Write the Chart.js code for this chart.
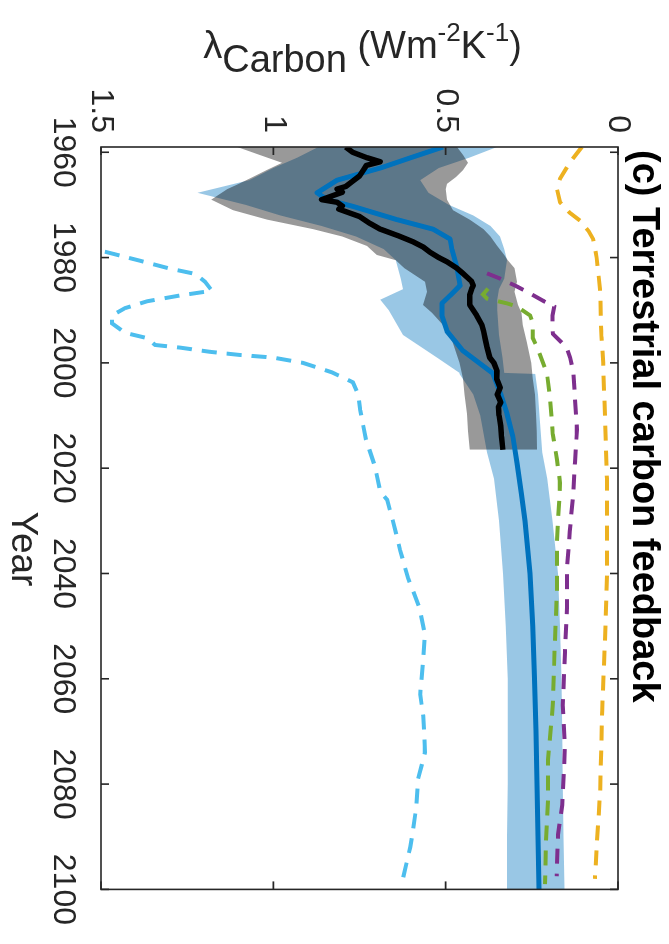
<!DOCTYPE html>
<html>
<head>
<meta charset="utf-8">
<script src="https://cdn.jsdelivr.net/npm/chart.js@4.4.0/dist/chart.umd.min.js"></script>
<style>
  html, body { margin: 0; padding: 0; background: #fff; }
  body { width: 669px; height: 944px; overflow: hidden; position: relative; }
  /* the figure is laid out landscape and turned a quarter turn clockwise */
  #turn { position: absolute; left: 0; top: 0; width: 944px; height: 669px;
          transform-origin: 0 0; transform: translate(669px, 0) rotate(90deg); }
  canvas { display: block; }
</style>
</head>
<body>
<div id="turn"><canvas id="c" width="944" height="669"></canvas></div>
<script>
// ---- axis ticks ----
const yearTicks = [1960, 1980, 2000, 2020, 2040, 2060, 2080, 2100];
const lambdaTicks = [0, 0.5, 1, 1.5];

// ---- observation-based estimate (black) and its range (grey) ----
const obsYears = [1959, 1960, 1961, 1961.8, 1962.5, 1963.5, 1964.5, 1965.5, 1966.5, 1967, 1967.6, 1968.3, 1969, 1969.5, 1970.2, 1970.8, 1971.5, 1972.2, 1973.5, 1974.6, 1975.8, 1977, 1978, 1979, 1980, 1980.8, 1982, 1983, 1984.5, 1985.3, 1986, 1987, 1988, 1989, 1990, 1991, 1992.8, 1994, 1995.5, 1997, 1999, 2000, 2001.5, 2003, 2004.7, 2006, 2007.5, 2008.4, 2010, 2012, 2014, 2016.5];
const obsCarbon = [0.79, 0.77, 0.73, 0.69, 0.73, 0.74, 0.75, 0.77, 0.79, 0.815, 0.80, 0.83, 0.86, 0.815, 0.80, 0.81, 0.78, 0.75, 0.72, 0.69, 0.64, 0.595, 0.565, 0.545, 0.52, 0.496, 0.468, 0.45, 0.425, 0.42, 0.425, 0.43, 0.43, 0.43, 0.42, 0.41, 0.395, 0.39, 0.385, 0.38, 0.372, 0.36, 0.351, 0.352, 0.342, 0.35, 0.34, 0.347, 0.345, 0.34, 0.338, 0.334];

const obsBandYears = [1959, 1960.5, 1962, 1963.4, 1964.7, 1966, 1967, 1969, 1971, 1972.8, 1974.6, 1976, 1977.8, 1979.5, 1980.5, 1982, 1984.6, 1986.5, 1989, 1990.5, 1992.8, 1996, 2000, 2003, 2006, 2009.7, 2013, 2016.5];
const obsBandHigh = [1.105, 1.04, 0.975, 1.02, 1.06, 1.10, 1.134, 1.18, 1.117, 1.018, 0.885, 0.80, 0.728, 0.70, 0.645, 0.62, 0.56, 0.554, 0.566, 0.54, 0.508, 0.48, 0.46, 0.45, 0.445, 0.438, 0.435, 0.43];
const obsBandLow = [0.467, 0.45, 0.435, 0.45, 0.47, 0.496, 0.50, 0.496, 0.479, 0.43, 0.39, 0.37, 0.35, 0.33, 0.32, 0.30, 0.293, 0.30, 0.29, 0.28, 0.276, 0.265, 0.252, 0.247, 0.241, 0.238, 0.236, 0.235];

// ---- multi-model mean (blue) and its range (light blue) ----
const mmmYears = [1959, 1961, 1963, 1965.3, 1967.7, 1969, 1970.3, 1972.8, 1974.6, 1976.5, 1978.4, 1982, 1985.3, 1987.2, 1988.7, 1991, 1994, 1997.7, 2002, 2006, 2009.7, 2014, 2019, 2025, 2030, 2040, 2050, 2060, 2070, 2080, 2090, 2100];
const mmmCarbon = [0.508, 0.60, 0.69, 0.815, 0.873, 0.844, 0.768, 0.641, 0.537, 0.487, 0.482, 0.467, 0.458, 0.487, 0.511, 0.511, 0.496, 0.45, 0.363, 0.34, 0.322, 0.305, 0.293, 0.28, 0.27, 0.255, 0.247, 0.242, 0.238, 0.235, 0.232, 0.229];

const mmmBandYears = [1959, 1961, 1963, 1965.3, 1967.7, 1970, 1972, 1974, 1976, 1978.4, 1980.5, 1984, 1986, 1988, 1990, 1994.7, 1999, 2001.9, 2002.1, 2006, 2010, 2017, 2022, 2030, 2040, 2050, 2060, 2070, 2080, 2090, 2100];
const mmmBandHigh = [0.87, 0.93, 1.0, 1.07, 1.22, 1.08, 0.98, 0.86, 0.76, 0.68, 0.645, 0.63, 0.624, 0.69, 0.665, 0.624, 0.525, 0.46, 0.46, 0.42, 0.40, 0.38, 0.36, 0.345, 0.334, 0.326, 0.32, 0.32, 0.32, 0.322, 0.322];
const mmmBandLow = [0.351, 0.43, 0.52, 0.574, 0.55, 0.49, 0.42, 0.37, 0.342, 0.33, 0.322, 0.33, 0.345, 0.35, 0.35, 0.345, 0.335, 0.33, 0.24, 0.232, 0.228, 0.22, 0.205, 0.19, 0.174, 0.168, 0.164, 0.162, 0.16, 0.158, 0.155];

// ---- individual model runs (dashed) ----
const goldYears = [1959, 1962, 1965, 1967, 1969.5, 1971.5, 1973, 1975, 1976.5, 1980, 1986, 1991, 1995, 2000, 2010, 2022, 2040, 2053, 2066, 2081.6, 2091, 2098];
const goldCarbon = [0.105, 0.14, 0.168, 0.177, 0.168, 0.14, 0.11, 0.085, 0.072, 0.062, 0.052, 0.05, 0.048, 0.043, 0.038, 0.032, 0.032, 0.038, 0.046, 0.052, 0.061, 0.067];

const purpleYears = [1983, 1984, 1985.5, 1986.5, 1988.3, 1989.3, 1991, 1992.8, 1994.5, 1997, 1999, 2001.5, 2006.5, 2012.7, 2019, 2025, 2032, 2039, 2046.5, 2055, 2065, 2072.8, 2078, 2084, 2089.6, 2097.5];
const purpleCarbon = [0.38, 0.342, 0.293, 0.264, 0.215, 0.185, 0.19, 0.19, 0.189, 0.15, 0.139, 0.13, 0.125, 0.119, 0.125, 0.13, 0.14, 0.148, 0.148, 0.154, 0.16, 0.154, 0.157, 0.162, 0.174, 0.178];

const greenYears = [1985.9, 1987, 1987.8, 1988.7, 1989.3, 1991, 1992.5, 1995.3, 1997, 2002, 2007, 2013.5, 2018.4, 2022.8, 2034, 2043.5, 2052.8, 2065, 2075.4, 2083, 2091, 2099];
const greenCarbon = [0.377, 0.392, 0.38, 0.322, 0.293, 0.255, 0.247, 0.247, 0.235, 0.206, 0.197, 0.189, 0.177, 0.168, 0.177, 0.177, 0.183, 0.189, 0.203, 0.203, 0.209, 0.212];

const cyanYears = [1978, 1978.8, 1980.6, 1982.1, 1983.1, 1984.6, 1986.3, 1987.2, 1988.3, 1989.6, 1991, 1992.5, 1994.3, 1995.3, 1996.6, 1997.1, 1997.9, 1998.5, 1999, 2000, 2001.8, 2003.7, 2006, 2009, 2014.6, 2019.7, 2024.4, 2026, 2030, 2035.6, 2040.9, 2046.3, 2051.6, 2057, 2063, 2067, 2074, 2079, 2084.7, 2089, 2092, 2098];
const cyanCarbon = [1.56, 1.494, 1.387, 1.30, 1.227, 1.198, 1.178, 1.271, 1.366, 1.43, 1.468, 1.468, 1.43, 1.366, 1.343, 1.271, 1.184, 1.097, 1.0, 0.914, 0.83, 0.769, 0.754, 0.748, 0.731, 0.705, 0.69, 0.67, 0.653, 0.632, 0.609, 0.577, 0.56, 0.566, 0.574, 0.565, 0.56, 0.58, 0.586, 0.595, 0.603, 0.624];

// ---- styling ----
const AXIS = '#262626';
const FONT = '"Liberation Sans", Arial, Helvetica, sans-serif';
Chart.defaults.font.family = FONT;

const pts = (xs, ys) => xs.map((x, i) => ({ x: x, y: ys[i] }));
const solid = (label, xs, ys, color, w) => ({
  label, data: pts(xs, ys), borderColor: color, borderWidth: w,
  pointRadius: 0, fill: false, clip: 0, borderJoinStyle: 'round', borderCapStyle: 'butt'
});
const dashed = (label, xs, ys, color) => ({
  label, data: pts(xs, ys), borderColor: color, borderWidth: 4, borderDash: [15, 10],
  pointRadius: 0, fill: false, clip: 0
});
const edge = (label, xs, ys, fillColor, fillTarget) => ({
  label, data: pts(xs, ys), borderWidth: 0, borderColor: 'rgba(0,0,0,0)',
  backgroundColor: fillColor, pointRadius: 0, fill: fillTarget, clip: 0
});

// index 0 is painted last, i.e. on top
const datasets = [
  solid('Observed', obsYears, obsCarbon, '#000000', 5.5),
  solid('Model mean', mmmYears, mmmCarbon, '#0072BD', 5),
  dashed('Run A', cyanYears, cyanCarbon, '#4DBEEE'),
  dashed('Run B', greenYears, greenCarbon, '#77AC30'),
  dashed('Run C', purpleYears, purpleCarbon, '#7E2F8E'),
  dashed('Run D', goldYears, goldCarbon, '#EDB120'),
  edge('Observed high', obsBandYears, obsBandHigh, 'rgba(0,0,0,0.4)', '+1'),
  edge('Observed low', obsBandYears, obsBandLow, 'rgba(0,0,0,0)', false),
  edge('Model high', mmmBandYears, mmmBandHigh, 'rgba(0,114,189,0.4)', '+1'),
  edge('Model low', mmmBandYears, mmmBandLow, 'rgba(0,0,0,0)', false)
];

// box with inward tick marks on all four sides
const boxPlugin = {
  id: 'box',
  afterDatasetsDraw(chart) {
    const { ctx, chartArea: { left, right, top, bottom }, scales: { x, y } } = chart;
    const len = 8;
    ctx.save();
    ctx.strokeStyle = AXIS;
    ctx.lineWidth = 1.6;
    ctx.beginPath();
    yearTicks.forEach(v => {
      const px = x.getPixelForValue(v);
      ctx.moveTo(px, bottom); ctx.lineTo(px, bottom - len);
      ctx.moveTo(px, top); ctx.lineTo(px, top + len);
    });
    lambdaTicks.forEach(v => {
      const py = y.getPixelForValue(v);
      ctx.moveTo(left, py); ctx.lineTo(left + len, py);
      ctx.moveTo(right, py); ctx.lineTo(right - len, py);
    });
    ctx.stroke();
    ctx.strokeRect(left, top, right - left, bottom - top);
    ctx.restore();
  }
};

// panel title, x-axis label and the y-axis label with sub/superscripts
const textPlugin = {
  id: 'texts',
  afterDraw(chart) {
    const { ctx, chartArea: { left, top, bottom } } = chart;
    ctx.save();
    ctx.fillStyle = '#000';
    ctx.font = 'bold 38px ' + FONT;
    ctx.textAlign = 'left';
    ctx.textBaseline = 'alphabetic';
    ctx.fillText('(c) Terrestrial carbon feedback', left + 3, 36);

    ctx.fillStyle = AXIS;
    ctx.font = '37px ' + FONT;
    ctx.textAlign = 'center';
    ctx.fillText('Year', 549, 657);
    ctx.restore();

    const main = 38, sup = 26;
    const parts = [
      { t: '\u03BB', size: main, dy: 0 },
      { t: 'Carbon', size: main, dy: 14 },
      { t: ' (Wm', size: main, dy: 0 },
      { t: '-2', size: sup, dy: -17 },
      { t: 'K', size: main, dy: 0 },
      { t: '-1', size: sup, dy: -17 },
      { t: ')', size: main, dy: 0 }
    ];
    ctx.save();
    ctx.fillStyle = AXIS;
    ctx.textBaseline = 'alphabetic';
    ctx.textAlign = 'left';
    let total = 0;
    parts.forEach(p => { ctx.font = p.size + 'px ' + FONT; p.w = ctx.measureText(p.t).width; total += p.w; });
    ctx.translate(58, (top + bottom) / 2 - 3);
    ctx.rotate(-Math.PI / 2);
    let cx = -total / 2;
    parts.forEach(p => {
      ctx.font = p.size + 'px ' + FONT;
      ctx.fillText(p.t, cx, p.dy);
      cx += p.w;
    });
    ctx.restore();
  }
};

new Chart(document.getElementById('c'), {
  type: 'line',
  data: { datasets },
  options: {
    responsive: false,
    animation: false,
    devicePixelRatio: 1,
    layout: { padding: { left: 0, right: 46, top: 51, bottom: 0 } },
    plugins: { legend: { display: false }, tooltip: { enabled: false }, title: { display: false } },
    elements: { line: { tension: 0 }, point: { radius: 0 } },
    scales: {
      x: {
        type: 'linear', min: 1959, max: 2100,
        grid: { display: false, drawTicks: false }, border: { display: false },
        afterBuildTicks: s => { s.ticks = yearTicks.map(v => ({ value: v })); },
        afterFit: s => { s.height = 101; },
        ticks: { color: AXIS, font: { size: 32 }, padding: 19, maxRotation: 0, autoSkip: false,
                 callback: v => String(v) },
        title: { display: false }
      },
      y: {
        type: 'linear', min: 0, max: 1.5, reverse: true,
        grid: { display: false, drawTicks: false }, border: { display: false },
        afterBuildTicks: s => { s.ticks = lambdaTicks.map(v => ({ value: v })); },
        afterFit: s => { s.width = 147; },
        ticks: { color: AXIS, font: { size: 32 }, padding: 14, callback: v => String(v) }
      }
    }
  },
  plugins: [boxPlugin, textPlugin]
});
</script>
</body>
</html>
